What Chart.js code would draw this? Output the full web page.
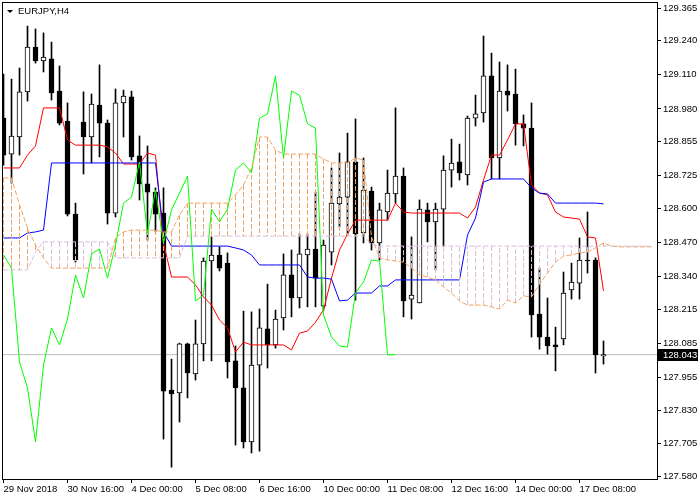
<!DOCTYPE html>
<html>
<head>
<meta charset="utf-8">
<script src="https://cdn.jsdelivr.net/npm/chart.js@4/dist/chart.umd.min.js"></script>
<style>
  html, body { margin: 0; padding: 0; background: #fff; }
</style>
</head>
<body>
<canvas id="chart" width="700" height="500"></canvas>
<script>
// EURJPY H4 bars, first bar 29 Nov 2018
const opens = [
  128.945, 128.808, 128.873, 129.045, 129.216, 129.163, 129.171, 129.048, 128.934, 128.579,
  128.930, 128.873, 128.995, 128.926, 128.583, 129.003, 129.026, 128.801, 128.694, 128.663,
  128.583, 127.908, 127.897, 128.084, 127.969, 128.084, 128.400, 128.423, 128.392, 128.019,
  127.916, 127.710, 128.003, 128.141, 128.080, 128.183, 128.347, 128.259, 128.423, 128.446,
  128.228, 128.434, 128.618, 128.644, 128.778, 128.507, 128.667, 128.469, 128.587, 128.656,
  128.724, 128.255, 128.240, 128.595, 128.549, 128.598, 128.747, 128.778, 128.728, 128.945,
  128.965, 129.106, 128.793, 129.048, 129.037, 128.923, 128.907, 128.198, 128.110, 128.080,
  128.103, 128.290, 128.316, 128.404, 128.404, 128.038
];
const highs = [
  129.113, 129.094, 129.136, 129.296, 129.285, 129.270, 129.235, 129.144, 129.003, 128.621,
  129.045, 129.037, 129.148, 128.938, 129.056, 129.052, 129.048, 128.877, 128.839, 128.679,
  128.679, 128.026, 128.087, 128.087, 128.175, 128.412, 128.492, 128.454, 128.431, 128.076,
  128.209, 128.206, 128.217, 128.312, 128.213, 128.427, 128.442, 128.503, 128.503, 128.663,
  128.480, 128.755, 128.812, 128.888, 128.942, 128.793, 128.682, 128.621, 128.747, 128.984,
  128.755, 128.492, 128.633, 128.621, 128.621, 128.801, 128.865, 128.846, 128.953, 129.033,
  129.258, 129.193, 129.159, 129.148, 129.132, 128.957, 129.003, 128.373, 128.259, 128.148,
  128.358, 128.392, 128.488, 128.587, 128.412, 128.095
];
const lows = [
  128.766, 128.697, 128.804, 129.010, 129.155, 129.121, 129.014, 128.919, 128.572, 128.396,
  128.732, 128.774, 128.797, 128.541, 128.568, 128.873, 128.785, 128.633, 128.480, 128.511,
  127.721, 127.614, 127.786, 127.878, 127.946, 128.019, 128.019, 128.362, 127.954, 127.698,
  127.687, 127.668, 127.675, 127.992, 128.068, 128.137, 128.187, 128.221, 128.225, 128.225,
  128.213, 128.385, 128.530, 128.499, 128.251, 128.469, 128.442, 128.404, 128.556, 128.621,
  128.187, 128.179, 128.240, 128.473, 128.366, 128.457, 128.682, 128.709, 128.690, 128.915,
  128.930, 128.713, 128.713, 128.972, 128.842, 128.839, 128.110, 128.064, 128.045, 127.981,
  128.080, 128.255, 128.255, 128.354, 127.973, 128.007
];
const closes = [
  128.804, 128.877, 129.045, 129.216, 129.163, 129.178, 129.041, 128.926, 128.579, 128.404,
  128.873, 128.999, 128.926, 128.583, 129.003, 129.029, 128.797, 128.694, 128.663, 128.579,
  127.904, 127.893, 128.084, 127.973, 128.084, 128.400, 128.423, 128.373, 128.015, 127.916,
  127.710, 128.003, 128.145, 128.080, 128.179, 128.347, 128.259, 128.427, 128.446, 128.335,
  128.461, 128.621, 128.644, 128.778, 128.503, 128.671, 128.469, 128.595, 128.659, 128.724,
  128.248, 128.270, 128.598, 128.549, 128.598, 128.747, 128.774, 128.736, 128.945, 128.961,
  129.106, 128.793, 129.048, 129.033, 128.923, 128.907, 128.194, 128.110, 128.076, 128.072,
  128.278, 128.320, 128.404, 128.400, 128.042, 128.043
];

// Ichimoku lines, one value per bar
const tenkan = [
  128.755, 128.755, 128.755, 128.804, 128.839, 128.984, 128.984, 128.984, 128.862, 128.842,
  128.842, 128.842, 128.842, 128.835, 128.812, 128.770, 128.770, 128.770, 128.812, 128.804,
  128.469, 128.339, 128.339, 128.339, 128.309, 128.263, 128.232, 128.175, 128.145, 128.053,
  128.091, 128.080, 128.080, 128.080, 128.080, 128.080, 128.061, 128.125, 128.133, 128.167,
  128.213, 128.335, 128.442, 128.503, 128.556, 128.556, 128.556, 128.556, 128.556, 128.621,
  128.587, 128.583, 128.583, 128.583, 128.583, 128.583, 128.583, 128.583, 128.564, 128.606,
  128.709, 128.804, 128.804, 128.862, 128.923, 128.923, 128.690, 128.659, 128.652, 128.587,
  128.568, 128.564, 128.560, 128.492, 128.488, 128.286
];
const kijun = [
  128.488, 128.488, 128.488, 128.507, 128.511, 128.518, 128.774, 128.774, 128.774, 128.774,
  128.774, 128.774, 128.774, 128.774, 128.774, 128.774, 128.774, 128.774, 128.774, 128.774,
  128.511, 128.457, 128.457, 128.457, 128.457, 128.457, 128.457, 128.457, 128.457, 128.450,
  128.442, 128.423, 128.385, 128.385, 128.385, 128.385, 128.385, 128.385, 128.339, 128.335,
  128.335, 128.331, 128.248, 128.251, 128.278, 128.278, 128.278, 128.305, 128.305, 128.328,
  128.328, 128.328, 128.328, 128.328, 128.328, 128.328, 128.328, 128.328, 128.499, 128.564,
  128.701, 128.713, 128.713, 128.713, 128.713, 128.713, 128.679, 128.659, 128.656, 128.621,
  128.621, 128.621, 128.621, 128.621, 128.621, 128.618
];
// senkou spans run 6 bars past the last candle
const senkouA = [
  128.717, 128.717, 128.614, 128.526, 128.461, 128.412, 128.373, 128.373, 128.373, 128.373,
  128.373, 128.373, 128.373, 128.373, 128.488, 128.511, 128.518, 128.518, 128.518, 128.518,
  128.511, 128.511, 128.576, 128.621, 128.621, 128.621, 128.621, 128.621, 128.621, 128.652,
  128.690, 128.755, 128.873, 128.873, 128.823, 128.808, 128.808, 128.808, 128.808, 128.808,
  128.789, 128.774, 128.774, 128.774, 128.793, 128.785, 128.492, 128.412, 128.404, 128.400,
  128.396, 128.373, 128.347, 128.339, 128.328, 128.301, 128.278, 128.248, 128.232, 128.232,
  128.232, 128.225, 128.217, 128.251, 128.240, 128.267, 128.263, 128.312, 128.354, 128.396,
  128.419, 128.423, 128.431, 128.434, 128.450, 128.469, 128.457, 128.454, 128.454, 128.454,
  128.454, 128.454
];
const senkouB = [
  128.366, 128.366, 128.366, 128.366, 128.434, 128.473, 128.473, 128.473, 128.473, 128.473,
  128.473, 128.473, 128.473, 128.473, 128.412, 128.412, 128.412, 128.412, 128.412, 128.412,
  128.412, 128.412, 128.412, 128.495, 128.495, 128.495, 128.495, 128.495, 128.495, 128.495,
  128.495, 128.495, 128.495, 128.495, 128.495, 128.495, 128.495, 128.495, 128.495, 128.495,
  128.495, 128.495, 128.495, 128.495, 128.495, 128.495, 128.465, 128.457, 128.457, 128.457,
  128.457, 128.457, 128.457, 128.457, 128.457, 128.457, 128.457, 128.457, 128.457, 128.457,
  128.457, 128.457, 128.457, 128.457, 128.457, 128.457, 128.457, 128.457, 128.457, 128.457,
  128.457, 128.457, 128.457, 128.457, 128.457, 128.457, 128.457, 128.457, 128.457, 128.457,
  128.457, 128.457
];
const chikouShift = 26;

// axis ticks
const xTickBars = [0, 8, 16, 24, 32, 40, 48, 56, 64, 72];
const xTickLabels = ['29 Nov 2018', '30 Nov 16:00', '4 Dec 00:00', '5 Dec 08:00', '6 Dec 16:00',
  '10 Dec 00:00', '11 Dec 08:00', '12 Dec 16:00', '14 Dec 00:00', '17 Dec 08:00'];
const yTickValues = [127.580, 127.705, 127.830, 127.955, 128.085, 128.215, 128.340, 128.470,
  128.600, 128.725, 128.855, 128.980, 129.110, 129.240, 129.365];
const chartTitle = 'EURJPY,H4';

const font = { family: "'Liberation Sans', Arial, sans-serif", size: 9.5 };
const dash = [5, 2];
const toPoints = arr => arr.map((v, i) => ({ x: i, y: v }));
const lastClose = closes[closes.length - 1];

const wickData = closes.map((_, i) => ({ x: i, y: [lows[i], highs[i]] }));
const bodyData = closes.map((c, i) => ({ x: i, y: [opens[i], c] }));
const chikouData = toPoints(closes.slice(chikouShift));

// vertical hatch of the cloud, colour by which span is on top
const hatchUp = [];
const hatchDown = [];
senkouA.forEach((a, i) => {
  const b = senkouB[i];
  if (a === b) return;
  const target = a > b ? hatchUp : hatchDown;
  target.push({ x: i, y: a }, { x: i, y: b }, { x: i, y: null });
});

const line = (data, color, order, extra) => Object.assign({
  type: 'line', data, borderColor: color, borderWidth: 1, pointRadius: 0,
  tension: 0, spanGaps: false, order,
}, extra || {});

const decor = {
  id: 'decor',
  afterDraw(chart) {
    const { ctx, chartArea: a, scales } = chart;
    ctx.save();
    // frame
    ctx.strokeStyle = '#000';
    ctx.lineWidth = 1;
    ctx.strokeRect(a.left - 0.5, a.top + 0.5, a.right - a.left + 1, a.bottom - a.top);
    // title with the small triangle
    ctx.fillStyle = '#000';
    ctx.beginPath();
    ctx.moveTo(7, 10); ctx.lineTo(13, 10); ctx.lineTo(10, 13); ctx.closePath();
    ctx.fill();
    ctx.font = `${font.size}px ${font.family}`;
    ctx.textBaseline = 'middle';
    ctx.fillText(chartTitle, 18, 11);
    // last price tag
    const y = Math.round(scales.y.getPixelForValue(lastClose));
    ctx.fillRect(a.right + 1, y - 6, 40, 12);
    ctx.fillStyle = '#fff';
    ctx.fillText(lastClose.toFixed(3), a.right + 6, y);
    ctx.restore();
  }
};

new Chart(document.getElementById('chart'), {
  type: 'line',
  data: {
    datasets: [
      line([{ x: -1, y: lastClose }, { x: 82, y: lastClose }], '#c0c0c0', 20),
      { type: 'bar', data: wickData, backgroundColor: '#000', barThickness: 1, grouped: false, order: 12 },
      {
        type: 'bar', data: bodyData, barThickness: 5, grouped: false, order: 11,
        backgroundColor: c => (closes[c.dataIndex] > opens[c.dataIndex] ? '#fff' : '#000'),
        borderColor: '#000', borderWidth: 1, borderSkipped: false,
      },
      line(toPoints(tenkan), '#ff0000', 7),
      line(toPoints(kijun), '#0000ff', 6),
      line(hatchUp, '#f4a460', 5, { borderDash: dash }),
      line(hatchDown, '#d8bfd8', 5, { borderDash: dash }),
      line(chikouData, '#00ff00', 4),
      line(toPoints(senkouA), '#f4a460', 3, { borderDash: dash }),
      line(toPoints(senkouB), '#d8bfd8', 2, { borderDash: dash }),
    ]
  },
  options: {
    responsive: false,
    animation: false,
    events: [],
    layout: { padding: { left: 3, top: 2, right: 0, bottom: 0 } },
    plugins: { legend: { display: false }, tooltip: { enabled: false } },
    scales: {
      x: {
        type: 'linear', min: -0.0625, max: 81.6875, offset: false,
        afterBuildTicks: s => { s.ticks = xTickBars.map(v => ({ value: v })); },
        afterFit: s => { s.height = 21; s.paddingLeft = 0; s.paddingRight = 0; },
        grid: { drawOnChartArea: false, offset: false, tickLength: 4, color: '#000' },
        border: { display: false },
        ticks: {
          align: 'start', maxRotation: 0, autoSkip: false, padding: 1, color: '#000', font,
          callback: (v, i) => xTickLabels[i],
        },
      },
      y: {
        type: 'linear', position: 'right', min: 127.5687, max: 129.3879,
        afterBuildTicks: s => { s.ticks = yTickValues.map(v => ({ value: v })); },
        afterFit: s => { s.width = 43; s.paddingTop = 0; s.paddingBottom = 0; },
        grid: { drawOnChartArea: false, tickLength: 4, color: '#000' },
        border: { display: false },
        ticks: { autoSkip: false, padding: 2, color: '#000', font, callback: v => v.toFixed(3) },
      },
    },
  },
  plugins: [decor],
});
</script>
</body>
</html>
